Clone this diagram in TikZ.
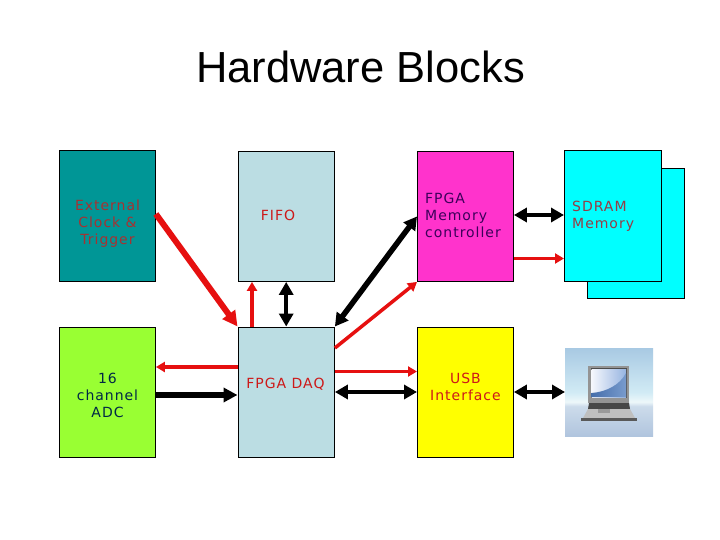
\documentclass[tikz,border=0pt]{standalone}
\usepackage{fontspec}
\setmainfont{DejaVu Sans}[LetterSpace=7]
\newfontfamily\titlefont{Liberation Sans}
\usetikzlibrary{arrows.meta}
\definecolor{tealbox}{RGB}{0,150,150}
\definecolor{paleblue}{RGB}{187,221,227}
\definecolor{limebox}{RGB}{153,255,51}
\definecolor{pinkbox}{RGB}{255,51,204}
\definecolor{cyanbox}{RGB}{0,255,255}
\definecolor{yellowbox}{RGB}{255,255,0}
\definecolor{arrred}{RGB}{230,16,16}
\definecolor{txtred}{RGB}{205,25,25}
\definecolor{txtbrown}{RGB}{165,50,50}
\definecolor{txtnavy}{RGB}{0,40,70}
\definecolor{txtpurple}{RGB}{60,0,90}
\definecolor{txtgrey}{RGB}{150,60,70}
\definecolor{scrhi}{RGB}{245,247,252}
\definecolor{scrlo}{RGB}{150,180,225}
\definecolor{scrblue}{RGB}{70,110,170}
\definecolor{scrblue2}{RGB}{120,155,205}
\pgfdeclareverticalshading{lapbg}{100bp}{
  rgb(0bp)=(0.69,0.77,0.87);
  rgb(25bp)=(0.69,0.77,0.87);
  rgb(42bp)=(0.80,0.86,0.92);
  rgb(44.5bp)=(0.93,0.97,0.98);
  rgb(50bp)=(0.82,0.92,0.96);
  rgb(75bp)=(0.66,0.79,0.89);
  rgb(100bp)=(0.66,0.79,0.89)}
\tikzset{
  block/.style={draw=black, line width=0.9pt, anchor=north west, inner sep=0},
  lbl/.style={font=\fontsize{14}{17}\selectfont, inner sep=0, align=center},
  lbll/.style={lbl, align=left, anchor=west},
  redthin/.style={draw=arrred, line width=3.5pt, -{Triangle[length=9pt,width=10pt]}},
  redfat/.style={draw=arrred, line width=6pt, -{Triangle[length=15pt,width=15pt]}},
  blkone/.style={draw=black, line width=5.5pt, -{Triangle[length=14pt,width=14pt]}},
  blktwo/.style={draw=black, line width=4.5pt, {Triangle[length=13pt,width=14pt]}-{Triangle[length=13pt,width=14pt]}}
}
\begin{document}
\begin{tikzpicture}[x=1pt, y=-1pt]
  \useasboundingbox[fill=white] (0,0) rectangle (720,540);

  \node[font=\titlefont\fontsize{43.5}{50}\selectfont, inner sep=0] (title) at (360.5,67) {Hardware Blocks};

  % blocks
  \node[block, fill=tealbox, minimum width=96pt, minimum height=131pt] (ext) at (59,150) {};
  \node[block, fill=paleblue, minimum width=96.5pt, minimum height=130pt] (fifo) at (237.5,151) {};
  \node[block, fill=pinkbox, minimum width=96pt, minimum height=130pt] (mem) at (417,151) {};
  \node[block, fill=cyanbox, minimum width=97.5pt, minimum height=130pt] (sdramb) at (586.5,168) {};
  \node[block, fill=cyanbox, minimum width=97pt, minimum height=131pt] (sdram) at (564,150) {};
  \node[block, fill=limebox, minimum width=96pt, minimum height=130.5pt] (adc) at (59,326.5) {};
  \node[block, fill=paleblue, minimum width=96.5pt, minimum height=130.5pt] (daq) at (237.5,326.5) {};
  \node[block, fill=yellowbox, minimum width=96pt, minimum height=130.5pt] (usb) at (417,326.5) {};

  % laptop
  \node[anchor=north west, inner sep=0, minimum width=88pt, minimum height=88pt, shading=lapbg] (pc) at (565,348) {};
  \fill[black!42] (588,366) rectangle (629,403);
  \fill[black!70] (590.5,368) rectangle (627,398);
  \shade[left color=scrhi, right color=scrlo] (591.5,369) rectangle (626,397);
  \shade[left color=scrblue, right color=scrblue2] (591.5,397) -- (591.5,393) .. controls (606,392) and (620,385) .. (626,373) -- (626,397) -- cycle;
  \fill[black!72] (589,403) -- (629,403) -- (630,409) -- (588,409) -- cycle;
  \fill[black!25] (588,409) -- (630,409) -- (635,418) -- (583,418) -- cycle;
  \fill[black!40] (598,409) rectangle (610,413);
  \fill[black!65] (581,418) rectangle (637,421);

  % connectors
  \draw[redfat] (ext.east |- 0,214) -- (daq.north west);
  \draw[redthin] (daq.north -| 252,0) -- (fifo.south -| 252,0);
  \draw[blktwo] (fifo.south) -- (daq.north);
  \draw[blktwo, line width=5.5pt] (mem.west) -- (daq.north east);
  \draw[redthin] (daq.east |- 0,348) -- (mem.south west);
  \draw[redthin] (daq.west |- 0,367) -- (adc.east |- 0,367);
  \draw[blkone] (adc.east |- 0,395) -- (daq.west |- 0,395);
  \draw[redthin] (daq.east |- 0,371.5) -- (usb.west |- 0,371.5);
  \draw[blktwo] (daq.east |- 0,392) -- (usb.west |- 0,392);
  \draw[blktwo] (mem.east |- 0,215) -- (sdram.west |- 0,215);
  \draw[redthin] (mem.east |- 0,258.5) -- (sdram.west |- 0,258.5);
  \draw[blktwo] (usb.east |- 0,392) -- (pc.west |- 0,392);

  % texts
  \node[lbl, text=txtbrown] (ext t) at (107.5,224) {External\\Clock \&\\Trigger};
  \node[lbl, text=txtred] (fifo t) at (278,215) {FIFO};
  \node[lbll, text=txtpurple] (mem t) at (425,215) {FPGA\\Memory\\controller};
  \node[lbll, text=txtgrey] (sdram t) at (572,216.5) {SDRAM\\Memory};
  \node[lbl, text=txtnavy] (adc t) at (107.5,395) {16\\channel\\ADC};
  \node[lbl, text=txtred] (daq t) at (285.5,384.5) {FPGA DAQ};
  \node[lbl, text=txtred] (usb t) at (465.5,386.5) {USB\\Interface};
\end{tikzpicture}
\end{document}
